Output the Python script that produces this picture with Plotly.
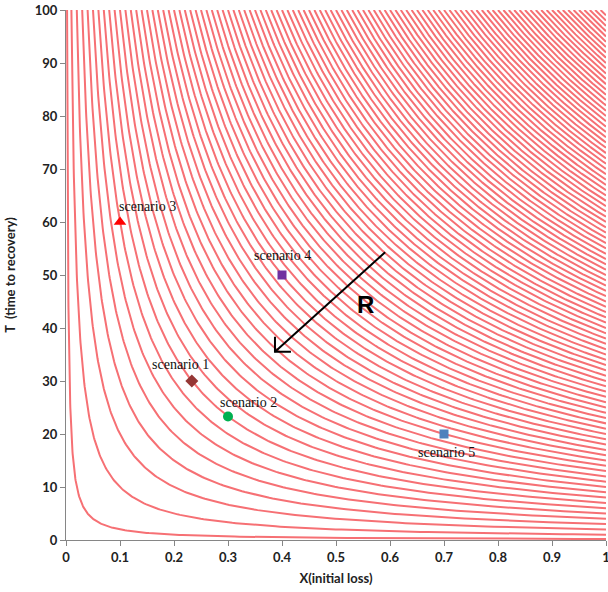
import numpy as np
import plotly.graph_objects as go

# Iso-resilience levels (X * T = level)
levels = [0.2] + list(range(1, 101))

# Scenario points
scen_names = ["scenario 1", "scenario 2", "scenario 3", "scenario 4", "scenario 5"]
scen_x = [0.233, 0.30, 0.10, 0.40, 0.70]
scen_t = [30.0, 23.3, 60.0, 50.0, 20.0]
scen_symbols = ["diamond", "circle", "triangle-up", "square", "square"]
scen_colors = ["#953735", "#00B050", "#FF0000", "#7030A0", "#4F81BD"]
scen_sizes = [10, 10, 11, 9, 9]
label_shift_x = [-11, 20, 27, 0, 2]
label_shift_y = [17, 14, 16, 20, -18]

x_ticks = [0, 0.1, 0.2, 0.3, 0.4, 0.5, 0.6, 0.7, 0.8, 0.9, 1]
x_ticktext = ["0", "0.1", "0.2", "0.3", "0.4", "0.5", "0.6", "0.7", "0.8", "0.9", "1"]
y_ticks = [0, 10, 20, 30, 40, 50, 60, 70, 80, 90, 100]

# Arrow (data coords): start -> tip
arrow_start = (0.591, 54.3)
arrow_tip = (0.387, 35.5)

fig = go.Figure()

cx, cy = [], []
for c in levels:
    xs = np.geomspace(c / 100.0, 1.0, 220)
    cx.extend(xs.tolist() + [None])
    cy.extend((c / xs).tolist() + [None])

fig.add_trace(go.Scatter(
    x=cx, y=cy, mode="lines",
    line=dict(color="rgb(246,112,116)", width=2),
    hoverinfo="skip", showlegend=False,
))

for i in range(len(scen_names)):
    fig.add_trace(go.Scatter(
        x=[scen_x[i]], y=[scen_t[i]], mode="markers",
        marker=dict(symbol=scen_symbols[i], color=scen_colors[i], size=scen_sizes[i],
                    line=dict(width=0)),
        showlegend=False, name=scen_names[i],
    ))
    fig.add_annotation(
        x=scen_x[i], y=scen_t[i], xref="x", yref="y", text=scen_names[i],
        showarrow=False, xshift=label_shift_x[i], yshift=label_shift_y[i],
        font=dict(family="Liberation Serif", size=14, color="#111111"),
    )

# Arrow shaft
fig.add_shape(type="line", xref="x", yref="y",
              x0=arrow_start[0], y0=arrow_start[1], x1=arrow_tip[0], y1=arrow_tip[1],
              line=dict(color="black", width=2))
# Open V head (pixel lengths converted to data units)
px_per_x = 540.0
px_per_t = 5.3
fig.add_shape(type="path", xref="x", yref="y",
              path=f"M {arrow_tip[0]} {arrow_tip[1] + 15/px_per_t} L {arrow_tip[0]} {arrow_tip[1]} L {arrow_tip[0] + 16/px_per_x} {arrow_tip[1]}",
              line=dict(color="black", width=2))

fig.add_annotation(x=0.555, y=44.5, xref="x", yref="y", text="<b>R</b>", showarrow=False,
                   font=dict(family="Liberation Sans", size=24, color="black"))

axis_font = dict(family="Lato", size=13, color="#222222", weight="bold")

fig.update_layout(
    width=608, height=592,
    margin=dict(l=66, r=2, t=10, b=52),
    paper_bgcolor="white", plot_bgcolor="white",
    xaxis=dict(
        range=[0, 1], tickvals=x_ticks, ticktext=x_ticktext, automargin=False,
        ticklabeloverflow="allow",
        showline=True, linecolor="#868686", linewidth=1,
        ticks="outside", ticklen=5, tickcolor="#868686",
        showgrid=False, zeroline=False, tickfont=axis_font,
        title=dict(text="X(initial loss)", font=axis_font, standoff=10),
    ),
    yaxis=dict(
        range=[0, 100], tickvals=y_ticks, automargin=False,
        ticklabeloverflow="allow",
        showline=True, linecolor="#868686", linewidth=1,
        ticks="outside", ticklen=5, tickcolor="#868686",
        showgrid=False, zeroline=False, tickfont=axis_font,
        title=dict(text="T  (time to recovery)", font=axis_font, standoff=16),
    ),
)

fig.write_html(
    "out.html",
    config={"displayModeBar": False},
    post_script="document.body.style.margin='0';document.body.style.overflow='hidden';",
)
